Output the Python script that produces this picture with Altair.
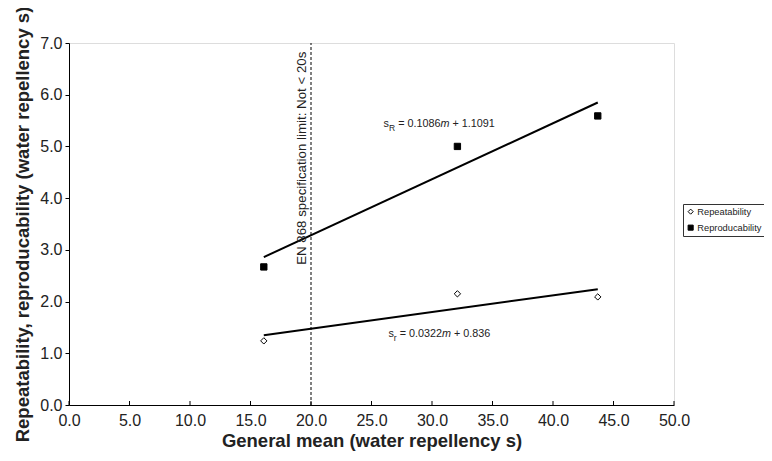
import altair as alt
import pandas as pd

# ---------------- data ----------------
series = ["Repeatability", "Reproducability"]
general_mean = [16.1, 32.1, 43.7]
repeatability = [1.24, 2.15, 2.09]
reproducability = [2.67, 5.00, 5.59]

# fitted trend line end points
fit_x = [16.1, 43.7]
fit_repeatability = [1.35, 2.24]
fit_reproducability = [2.86, 5.85]

spec_limit = 20.0
spec_label_y = 2.71
spec_label = "EN 868 specification limit: Not < 20s"

x_ticks = [0, 5, 10, 15, 20, 25, 30, 35, 40, 45, 50]
y_ticks = [0, 1, 2, 3, 4, 5, 6, 7]

eq_R_anchor = (26.0, 5.38)
eq_R_parts = ["s", "R", "= 0.1086", "m", "+ 1.1091"]
eq_r_anchor = (26.4, 1.32)
eq_r_parts = ["s", "r", "= 0.0322", "m", "+ 0.836"]

x_title = "General mean (water repellency s)"
y_title = "Repeatability, reproducability (water repellency s)"

# ---------------- tables ----------------
pts = pd.DataFrame({
    "series": [series[0]] * 3 + [series[1]] * 3,
    "mean": general_mean * 2,
    "value": repeatability + reproducability,
})
fits = pd.DataFrame({
    "series": [series[0]] * 2 + [series[1]] * 2,
    "mean": fit_x * 2,
    "value": fit_repeatability + fit_reproducability,
})
spec = pd.DataFrame({"x": [spec_limit], "y0": [y_ticks[0]], "y1": [y_ticks[-1]],
                     "ly": [spec_label_y], "label": [spec_label]})
xt = pd.DataFrame({"x": x_ticks})

FONT = "Liberation Sans"
W, H = 605, 362

xscale = alt.Scale(domain=[x_ticks[0], x_ticks[-1]], nice=False, zero=False)
yscale = alt.Scale(domain=[y_ticks[0], y_ticks[-1]], nice=False)

xaxis = alt.Axis(values=x_ticks, format=".1f", ticks=False, tickSize=0, labelPadding=7,
                 labelFlush=False, grid=False, domainColor="black", labelFontSize=16,
                 labelColor="#222", labelFont=FONT, titleFont=FONT, titleFontSize=18.5,
                 titleFontWeight="bold", titleColor="#222", titlePadding=3)
yaxis = alt.Axis(values=y_ticks, format=".1f", tickSize=4, tickColor="black", labelPadding=3,
                 labelFlush=False, grid=False, domainColor="black", labelFontSize=16,
                 labelColor="#222", labelFont=FONT, titleFont=FONT, titleFontSize=18.5,
                 titleFontWeight="bold", titleColor="#222", titlePadding=7)

legend = alt.Legend(title=None, orient="none", legendX=614, legendY=161,
                    strokeColor="#333", padding=3, labelFontSize=9.3, labelFont=FONT,
                    labelColor="#222", symbolStrokeWidth=1,
                    symbolSize=26, rowPadding=6, labelOffset=2)

lines = alt.Chart(fits).mark_line(color="black", strokeWidth=2).encode(
    x=alt.X("mean:Q", scale=xscale, axis=xaxis, title=x_title),
    y=alt.Y("value:Q", scale=yscale, axis=yaxis, title=y_title),
    detail="series:N",
)

rule = alt.Chart(spec).mark_rule(color="black", strokeWidth=1, strokeDash=[3, 2]).encode(
    x="x:Q", y="y0:Q", y2="y1:Q"
)

spec_text = alt.Chart(spec).mark_text(angle=270, align="left", baseline="bottom", dy=-2,
                                      fontSize=13.3, font=FONT, color="#222").encode(
    x="x:Q", y="ly:Q", text="label:N"
)

points = alt.Chart(pts).mark_point(filled=True, strokeWidth=1, opacity=1, size=40).encode(
    x="mean:Q",
    y="value:Q",
    shape=alt.Shape("series:N", scale=alt.Scale(domain=series, range=["diamond", "square"]),
                    legend=legend),
    fill=alt.Fill("series:N", scale=alt.Scale(domain=series, range=["white", "black"]),
                  legend=legend),
    stroke=alt.Stroke("series:N", scale=alt.Scale(domain=series, range=["black", "black"]),
                      legend=legend),
)

xticks_in = alt.Chart(xt).mark_rule(color="black", strokeWidth=1).encode(
    x="x:Q", y=alt.value(H), y2=alt.value(H - 4)
)

# equation annotations: (normal, subscript, normal, italic, normal)
R_dx = [0, 5.4, 14.55, 56.9, 68.9]
r_dx = [0, 5.4, 11.2, 53.5, 65.5]
styles = [("normal", 10.8, 0), ("normal", 8.5, 4), ("normal", 10.8, 0),
          ("italic", 10.8, 0), ("normal", 10.8, 0)]

eq_layers = []
for anchor, parts, dxs in [(eq_R_anchor, eq_R_parts, R_dx), (eq_r_anchor, eq_r_parts, r_dx)]:
    for part, dx, (fs, size, dy) in zip(parts, dxs, styles):
        d = pd.DataFrame({"x": [anchor[0]], "y": [anchor[1]], "t": [part]})
        eq_layers.append(
            alt.Chart(d).mark_text(align="left", baseline="alphabetic", dx=dx, dy=dy,
                                   fontSize=size, fontStyle=fs, font=FONT, color="#222").encode(
                x="x:Q", y="y:Q", text="t:N")
        )

chart = alt.layer(lines, rule, spec_text, xticks_in, points, *eq_layers).properties(
    width=W, height=H,
    autosize=alt.AutoSizeParams(type="none"),
    padding={"left": 61, "top": 35, "right": 90, "bottom": 47},
).configure_view(stroke="#a0a0a0", strokeWidth=1.5).configure(background="white")

chart.save("out.html", embed_options={"renderer": "svg", "actions": False})
